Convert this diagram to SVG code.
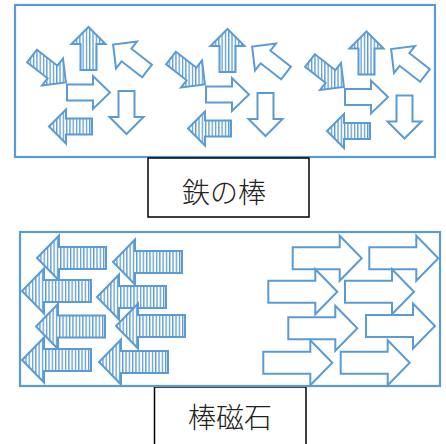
<svg xmlns="http://www.w3.org/2000/svg" xmlns:xlink="http://www.w3.org/1999/xlink" width="446" height="444" viewBox="0 0 446 444">
<style>
.frame{fill:none;stroke:#5B9BD5;stroke-width:2.2}
.lbl{fill:#fff;stroke:#000;stroke-width:1.5}
.st{fill:url(#stripes);stroke:#5B9BD5;stroke-width:2;stroke-linejoin:miter}
.ol{fill:#fff;stroke:#5B9BD5;stroke-width:2;stroke-linejoin:miter}
.txt{font-family:"Noto Sans CJK JP","Noto Sans CJK SC",sans-serif;font-size:28px;font-weight:300;fill:#222;text-anchor:middle}
</style>
<defs>
<pattern id="stripes" patternUnits="userSpaceOnUse" width="3.3" height="10">
<rect width="3.3" height="10" fill="#fff"/>
<rect width="1.3" height="10" fill="#5B9BD5"/>
</pattern>
<g id="cluster">
<polygon class="st" points="36.9,49.7 57.4,65.7 63.0,58.6 65.9,82.5 42.0,85.4 47.6,78.3 27.1,62.3"/>
<polygon class="st" points="80.5,70 80.5,44 71.5,44 88.5,27 105.5,44 96.5,44 96.5,70"/>
<polygon class="ol" points="142.1,77.3 121.6,61.3 116.0,68.4 113.1,44.5 137.0,41.6 131.4,48.7 151.9,64.7"/>
<polygon class="ol" points="67,84.5 93,84.5 93,76 110,92.5 93,109 93,100.5 67,100.5"/>
<polygon class="ol" points="134.5,91 134.5,117 143.5,117 126.5,134 109.5,117 118.5,117 118.5,91"/>
<polygon class="st" points="92,134.5 66,134.5 66,143.5 49,126.5 66,109.5 66,118.5 92,118.5"/>
</g>
<path id="bigL" class="st" d="M69,-11 H22 V-22.5 L0,0 L22,22.5 V11 H69 Z"/>
<path id="bigR" class="ol" d="M0,-11 H47 V-22.5 L69,0 L47,22.5 V11 H0 Z"/>
</defs>

<g id="iron-bar">
<rect class="frame" x="15" y="5" width="420" height="152"/>
<use id="domain1" href="#cluster"/>
<use id="domain2" href="#cluster" transform="translate(139,2)"/>
<use id="domain3" href="#cluster" transform="translate(278,4.5)"/>
</g>

<g id="label-iron">
<rect class="lbl" x="148" y="158" width="161" height="59"/>
<text class="txt" x="224" y="203">鉄の棒</text>
</g>

<g id="label-magnet">
<rect class="lbl" x="154.5" y="387" width="151.5" height="70"/>
<text class="txt" x="230" y="428">棒磁石</text>
</g>

<g id="bar-magnet">
<g id="left-arrows">
<use href="#bigL" transform="translate(37,258)"/>
<use href="#bigL" transform="translate(113,262)"/>
<use href="#bigL" transform="translate(22,291)"/>
<use href="#bigL" transform="translate(97,297)"/>
<use href="#bigL" transform="translate(36,326.5)"/>
<use href="#bigL" transform="translate(116,326)"/>
<use href="#bigL" transform="translate(22,360)"/>
<use href="#bigL" transform="translate(99,362)"/>
</g>
<g id="right-arrows">
<use href="#bigR" transform="translate(292.7,258.3)"/>
<use href="#bigR" transform="translate(369.3,258.3)"/>
<use href="#bigR" transform="translate(268.3,291.7)"/>
<use href="#bigR" transform="translate(345,291.7)"/>
<use href="#bigR" transform="translate(288.3,328.3)"/>
<use href="#bigR" transform="translate(366,326)"/>
<use href="#bigR" transform="translate(263.3,362.7)"/>
<use href="#bigR" transform="translate(340.7,362.7)"/>
</g>
<rect class="frame" x="20" y="232" width="420" height="154"/>
</g>
</svg>
